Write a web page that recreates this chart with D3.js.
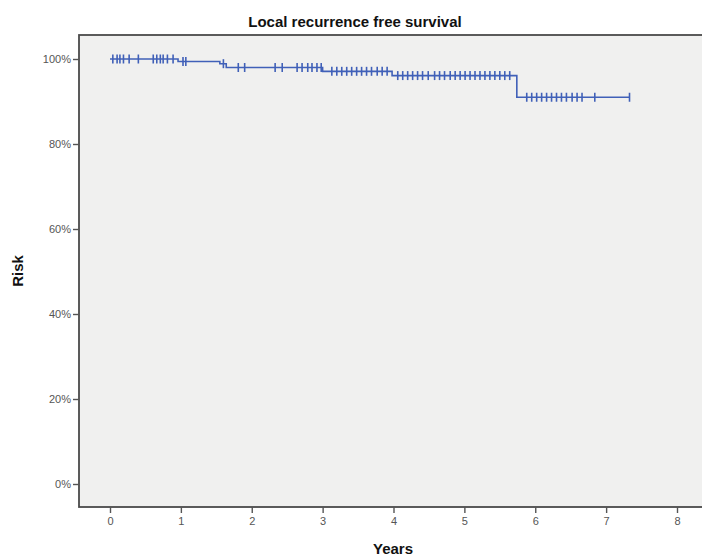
<!DOCTYPE html>
<html>
<head>
<meta charset="utf-8">
<script src="https://cdn.jsdelivr.net/npm/d3@7"></script>
<style>
  html, body { margin: 0; padding: 0; background: #ffffff; }
  svg { display: block; }
  text { font-family: "Liberation Sans", Arial, sans-serif; }
</style>
</head>
<body>
<svg id="chart" width="702" height="557"></svg>
<script>
// Kaplan-Meier step points: time (years) at which survival drops, new survival (%)
const stepTimes = [0, 0.96, 1.55, 1.64, 3.0, 3.98, 5.74];
const stepSurvival = [100, 99.4, 98.9, 98.0, 97.1, 96.1, 91.0];
const followUpEnd = 7.33;

// Censored observations (years)
const censorTimes = [
  0.04, 0.10, 0.14, 0.19, 0.27, 0.40, 0.61, 0.66, 0.71, 0.75, 0.81, 0.89,
  1.03, 1.07, 1.60,
  1.81, 1.90, 2.33, 2.43, 2.64, 2.71, 2.79, 2.85, 2.92, 2.98,
  3.13, 3.20, 3.27, 3.34, 3.41, 3.48, 3.55, 3.62, 3.69, 3.77, 3.84, 3.91,
  4.06, 4.13, 4.20, 4.27, 4.34, 4.41, 4.49,
  4.58, 4.65, 4.72, 4.80, 4.87, 4.94, 5.01, 5.08, 5.15, 5.22, 5.29, 5.36, 5.43, 5.50, 5.57, 5.64,
  5.88, 5.95, 6.02, 6.09, 6.16, 6.23, 6.30, 6.37, 6.44, 6.52, 6.59, 6.66, 6.84, 7.33
];

const xTicks = [0, 1, 2, 3, 4, 5, 6, 7, 8];
const yTicks = [0, 20, 40, 60, 80, 100];

const titleText = "Local recurrence free survival";
const xTitle = "Years";
const yTitle = "Risk";

const svg = d3.select("#chart");

// Plot frame (runs to the right edge of the page)
const frame = { left: 79, top: 35, right: 704, bottom: 507 };

const x = d3.scaleLinear().domain([0, 8]).range([110, 677]);
const y = d3.scaleLinear().domain([0, 100]).range([484, 59]);

svg.append("rect")
  .attr("x", frame.left).attr("y", frame.top)
  .attr("width", frame.right - frame.left)
  .attr("height", frame.bottom - frame.top)
  .attr("fill", "#f0f0ef")
  .attr("stroke", "#4a4a4a")
  .attr("stroke-width", 1.8);

// Axes
const xAxis = d3.axisBottom(x).tickValues(xTicks).tickSize(6).tickPadding(4)
  .tickFormat(d3.format("d"));
const gx = svg.append("g").attr("transform", `translate(0,${frame.bottom})`).call(xAxis);
gx.select(".domain").remove();

const yAxis = d3.axisLeft(y).tickValues(yTicks).tickSize(6).tickPadding(2)
  .tickFormat(d => d + "%");
const gy = svg.append("g").attr("transform", `translate(${frame.left},0)`).call(yAxis);
gy.select(".domain").remove();

[gx, gy].forEach(g => {
  g.selectAll(".tick line").attr("stroke", "#555").attr("stroke-width", 1.4);
  g.selectAll(".tick text")
    .attr("fill", "#555")
    .style("font-size", "11px")
    .style("font-family", "\"Liberation Sans\", Arial, sans-serif");
});

// Survival function
function survivalAt(t) {
  let s = stepSurvival[0];
  for (let i = 0; i < stepTimes.length; i++) {
    if (stepTimes[i] <= t) s = stepSurvival[i];
  }
  return s;
}

const pts = stepTimes.map((t, i) => [t, stepSurvival[i]]);
pts.push([followUpEnd, stepSurvival[stepSurvival.length - 1]]);

const line = d3.line()
  .x(d => x(d[0]))
  .y(d => y(d[1]))
  .curve(d3.curveStepAfter);

const curveColor = "#4060b8";

svg.append("path")
  .datum(pts)
  .attr("d", line)
  .attr("fill", "none")
  .attr("stroke", curveColor)
  .attr("stroke-width", 1.6);

// Censor marks
svg.append("g")
  .selectAll("line")
  .data(censorTimes)
  .join("line")
  .attr("x1", d => x(d)).attr("x2", d => x(d))
  .attr("y1", d => y(survivalAt(d)) - 4.5)
  .attr("y2", d => y(survivalAt(d)) + 4.5)
  .attr("stroke", curveColor)
  .attr("stroke-width", 1.6);

// Titles
svg.append("text")
  .attr("x", 355).attr("y", 27)
  .attr("text-anchor", "middle")
  .style("font-size", "15px").style("font-weight", "bold")
  .attr("fill", "#111")
  .text(titleText);

svg.append("text")
  .attr("x", 393).attr("y", 554)
  .attr("text-anchor", "middle")
  .style("font-size", "15px").style("font-weight", "bold")
  .attr("fill", "#111")
  .text(xTitle);

svg.append("text")
  .attr("transform", "translate(23,271) rotate(-90)")
  .attr("text-anchor", "middle")
  .style("font-size", "15px").style("font-weight", "bold")
  .attr("fill", "#111")
  .text(yTitle);
</script>
</body>
</html>
